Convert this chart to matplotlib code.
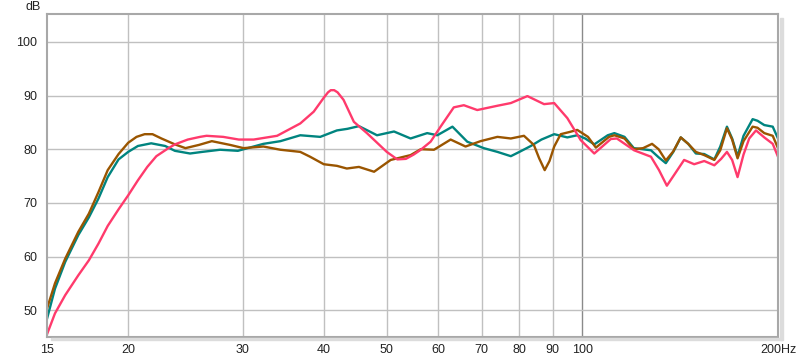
import matplotlib.pyplot as plt
import matplotlib.patches as patches
from matplotlib.ticker import FixedLocator, NullLocator

# frequency response (Hz, dB)
brown_f = [15.0, 15.43, 16.0, 16.76, 17.4, 18.0, 18.6, 19.33, 20.0, 20.6, 21.2, 21.8,
           22.5, 23.6, 24.5, 25.7, 26.9, 28.7, 30.1, 32.3, 34.3, 36.8, 38.1, 40.0,
           41.9, 43.4, 45.3, 47.8, 50.7, 54.4, 56.4, 59.1, 62.7, 66.1, 69.7, 74.0,
           77.6, 81.3, 84.2, 85.8, 87.5, 89.0, 90.5, 92.6, 95.5, 98.2, 102.0, 104.9,
           109.9, 112.0, 116.1, 120.0, 124.0, 128.0, 131.0, 134.4, 138.0, 141.7,
           145.5, 149.5, 154.0, 159.6, 163.0, 166.9, 170.0, 173.3, 177.0, 182.8,
           186.0, 190.5, 196.3, 200.0]
brown_db = [50.3, 55.0, 59.6, 64.6, 68.0, 72.0, 76.1, 79.1, 81.2, 82.3, 82.8, 82.8,
            82.0, 80.9, 80.2, 80.8, 81.5, 80.8, 80.2, 80.5, 79.9, 79.5, 78.6, 77.2,
            76.9, 76.4, 76.7, 75.8, 78.0, 78.9, 80.0, 79.9, 81.8, 80.5, 81.5, 82.3,
            82.0, 82.5, 80.8, 78.3, 76.1, 77.8, 80.5, 82.8, 83.2, 83.6, 82.3, 80.3,
            82.3, 82.6, 82.0, 80.0, 80.2, 81.0, 80.0, 77.9, 79.6, 82.2,
            81.0, 79.5, 78.9, 78.0, 79.8, 83.9, 81.8, 78.3, 81.5, 84.2,
            84.0, 83.0, 82.5, 80.2]

teal_f = [15.0, 15.43, 16.0, 16.76, 17.4, 18.0, 18.6, 19.33, 20.0, 20.7, 21.7, 22.8,
          23.6, 24.9, 26.0, 27.7, 29.5, 32.3, 34.3, 36.8, 39.5, 41.9, 43.5, 45.3,
          46.7, 48.3, 51.3, 54.4, 57.7, 59.8, 63.1, 66.5, 70.5, 74.0, 77.6, 80.0,
          83.3, 86.5, 90.5, 94.8, 98.2, 101.0, 104.3, 109.4, 112.0, 116.1, 120.0,
          127.5, 131.0, 134.4, 138.0, 141.7, 145.5, 149.5, 154.0, 159.6, 163.0,
          166.9, 170.0, 173.3, 177.0, 182.8, 186.0, 190.5, 196.3, 200.0]
teal_db = [48.4, 54.0, 59.0, 64.0, 67.3, 70.8, 74.8, 78.1, 79.5, 80.6, 81.1, 80.6,
           79.7, 79.2, 79.5, 79.9, 79.7, 81.0, 81.5, 82.6, 82.3, 83.5, 83.8, 84.3,
           83.5, 82.6, 83.3, 82.0, 83.0, 82.6, 84.2, 81.4, 80.2, 79.5, 78.7, 79.5,
           80.6, 81.8, 82.8, 82.2, 82.6, 82.0, 80.9, 82.6, 83.0, 82.3, 80.2,
           79.8, 78.5, 77.4, 79.5, 82.2, 81.0, 79.2, 79.1, 78.1, 80.5,
           84.2, 82.0, 78.7, 82.5, 85.6, 85.3, 84.5, 84.2, 82.0]

pink_f = [15.0, 15.43, 16.0, 16.76, 17.4, 18.0, 18.6, 19.33, 20.0, 20.7, 21.4, 22.1,
          23.0, 23.6, 24.7, 25.8, 26.4, 28.0, 29.6, 31.2, 33.9, 36.8, 38.6, 40.0,
          40.6, 41.0, 41.5, 42.0, 42.9, 44.5, 46.6, 50.0, 51.9, 53.5, 55.0, 56.4, 58.4,
          60.5, 63.4, 65.7, 68.9, 74.0, 77.6, 82.3, 87.3, 90.5, 94.8, 99.4, 104.3,
          110.6, 113.0, 120.1, 127.5, 131.2, 134.9, 138.4, 143.4, 148.6, 154.0,
          159.6, 163.5, 166.9, 170.0, 173.3, 177.0, 180.6, 185.0, 190.5, 196.3, 200.0]
pink_db = [45.5, 49.4, 52.8, 56.5, 59.3, 62.4, 65.7, 68.8, 71.4, 74.2, 76.7, 78.7,
           80.1, 80.9, 81.8, 82.3, 82.5, 82.3, 81.8, 81.8, 82.5, 84.8, 87.0, 89.6,
           90.6, 91.0, 91.0, 90.6, 89.2, 85.1, 83.0, 79.5, 78.1, 78.2, 79.0, 79.9, 81.4,
           84.2, 87.8, 88.2, 87.3, 88.1, 88.6, 89.9, 88.4, 88.6, 85.8, 81.7, 79.2,
           81.9, 82.0, 79.8, 78.6, 76.1, 73.2, 75.2, 78.0, 77.2, 77.8,
           77.0, 78.2, 79.5, 78.0, 74.8, 79.0, 82.0, 83.5, 82.2, 81.0, 78.6]

x_ticks = [15, 20, 30, 40, 50, 60, 70, 80, 90, 100, 200]
x_labels = ["15", "20", "30", "40", "50", "60", "70", "80", "90", "100", "200Hz"]
y_ticks = [50, 60, 70, 80, 90, 100]

plt.rcParams['font.family'] = ['Liberation Sans', 'DejaVu Sans']

fig = plt.figure(figsize=(8, 3.58), dpi=100)
ax = fig.add_axes([47 / 800, 21 / 358, 731 / 800, 323 / 358])

# grid
for f in [20, 30, 40, 50, 60, 70, 80, 90]:
    ax.axvline(f, color='#c0c0c0', lw=1.0, zorder=0)
ax.axvline(100, color='#8a8a8a', lw=1.0, zorder=0)
for y in y_ticks:
    ax.axhline(y, color='#c0c0c0', lw=1.0, zorder=0)

ax.plot(teal_f, teal_db, color='#00847f', lw=1.7, solid_joinstyle='round')
ax.plot(brown_f, brown_db, color='#9a5500', lw=1.7, solid_joinstyle='round')
ax.plot(pink_f, pink_db, color='#ff3a6c', lw=1.7, solid_joinstyle='round')

ax.set_xscale('log')
ax.set_xlim(15, 200)
ax.set_ylim(45, 105.2)
ax.xaxis.set_major_locator(FixedLocator(x_ticks))
ax.xaxis.set_minor_locator(NullLocator())
ax.set_xticklabels(x_labels)
ax.set_yticks(y_ticks)
ax.tick_params(length=0, labelsize=9, colors='#222222')
ax.tick_params(axis='x', pad=5)
ax.tick_params(axis='y', pad=7)

for s in ax.spines.values():
    s.set_color('#a8a8a8')
    s.set_linewidth(1.5)

# soft shadow along the right and bottom of the frame
fig.patches.append(patches.Rectangle((780 / 800, 18 / 358), 2.5 / 800, 322 / 358,
                                     transform=fig.transFigure, color='#dcdcdc', zorder=0))
fig.patches.append(patches.Rectangle((51 / 800, 18 / 358), 731 / 800, 2.5 / 358,
                                     transform=fig.transFigure, color='#dcdcdc', zorder=0))

fig.text(33 / 800, 1 - 7 / 358, "dB", ha='center', va='center', fontsize=9, color='#222222')

fig.savefig("out.png", dpi=100)
